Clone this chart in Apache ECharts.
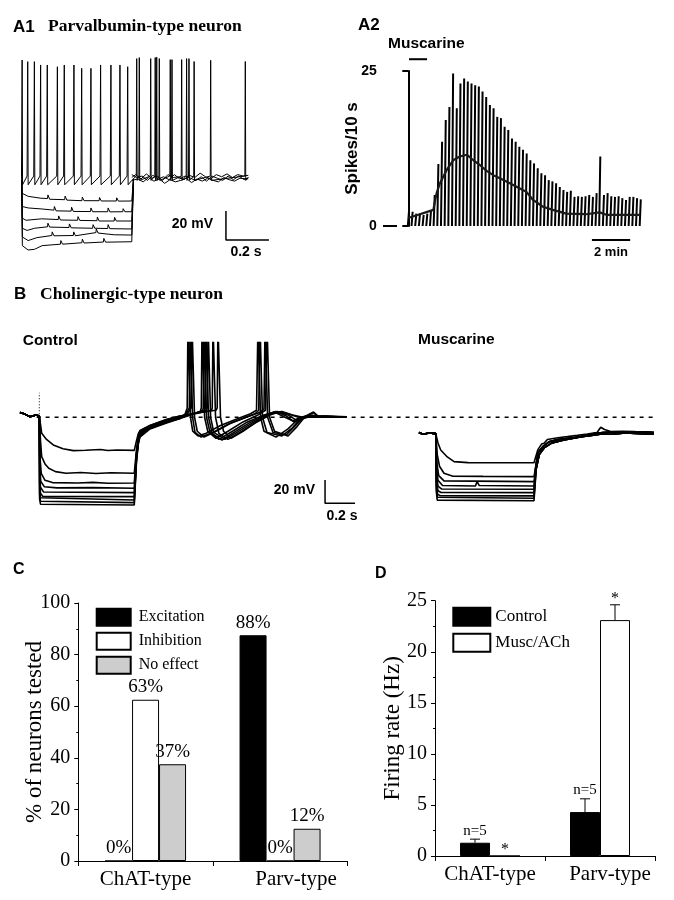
<!DOCTYPE html>
<html><head><meta charset="utf-8">
<script src="https://cdn.jsdelivr.net/npm/echarts@6/dist/echarts.min.js"></script>
<style>html,body{margin:0;padding:0;background:#fff}#c{width:674px;height:900px}</style>
</head><body><div id="c"></div>
<script>
// ================= DATA =================
// ---- A1: Parvalbumin-type neuron (time ms, membrane potential mV) ----
const a1StepSpikeTimes = [2, 28, 59, 88, 119, 166, 198, 243, 279, 322, 367, 415, 457, 493];
const a1StepSpikePeaks = [25, 23.9, 23.9, 21.6, 21.6, 20.4, 21.6, 21.6, 19.3, 19.3, 21.6, 21.6, 21.6, 20.4];
const a1PostSpikeTimes = [535, 547, 600, 621, 628, 640, 691, 699, 744, 767, 778, 802, 879, 1040];
const a1PostSpikePeaks = [26, 26.7, 26, 26.7, 27, 26, 25.3, 25.3, 25.3, 26, 26, 24, 24.8, 24];
const a1Hyper1 = [[0,-58],[3,-67],[30,-69],[90,-70.3],[120,-70.5],[122,-68],[130,-71],[200,-71.3],[202,-68.8],[210,-71.6],[280,-72],[282,-69.5],[290,-72],[360,-72],[362,-69.8],[370,-72.2],[440,-72.2],[442,-70],[450,-72.3],[512,-72.2],[520,-57]];
const a1Hyper2 = [[0,-58],[3,-76],[30,-77],[93,-77.7],[150,-78.5],[152,-76],[160,-79],[230,-79.2],[232,-76.5],[240,-79.4],[320,-79.5],[322,-77],[330,-79.6],[400,-79.6],[402,-77],[410,-79.7],[470,-79.6],[472,-77.5],[480,-79.6],[512,-79.6],[520,-57]];
const a1Hyper3 = [[0,-58],[3,-84],[20,-85.5],[93,-84.5],[170,-85],[172,-82.5],[180,-85.3],[260,-85.5],[262,-83],[270,-85.6],[350,-85.8],[352,-83.3],[360,-86],[430,-86],[432,-83.5],[440,-86],[512,-86],[520,-57]];
const a1Hyper4 = [[0,-58],[3,-91],[25,-92.5],[60,-91],[120,-90],[122,-87.5],[130,-90.2],[220,-90.5],[222,-88],[230,-90.7],[330,-91],[332,-88.5],[340,-91],[400,-91.2],[402,-88.5],[410,-91.3],[512,-91.5],[520,-57]];
const a1Hyper5 = [[0,-58],[3,-97],[30,-99.5],[70,-97.5],[140,-96],[142,-93.5],[150,-96.2],[240,-96],[242,-93.5],[250,-96.2],[345,-94],[347,-91.5],[355,-94.3],[430,-95.5],[512,-95.7],[520,-57]];
const a1Hyper6 = [[0,-58],[3,-103],[30,-106],[60,-105.5],[95,-103],[180,-102],[182,-99.5],[190,-102],[280,-101],[282,-98.5],[290,-101.2],[380,-100.5],[382,-98],[390,-100.6],[512,-100.3],[520,-57]];
const a1Noise1 = [[512,-56],[530,-54],[555,-57],[580,-53.5],[605,-56.5],[630,-55],[655,-58],[680,-54],[705,-56],[730,-55.5],[755,-57.5],[780,-54.5],[805,-56],[830,-53],[855,-55.5],[880,-57],[905,-54],[930,-55.5],[955,-53.5],[980,-56],[1005,-54],[1030,-55],[1054,-54.5]];
const a1Noise2 = [[512,-58],[540,-57],[565,-59],[590,-56],[615,-58.5],[640,-57],[665,-60],[690,-57.5],[715,-59],[740,-58],[765,-56.5],[790,-59.5],[815,-57],[840,-58.5],[865,-56.5],[890,-58],[915,-59],[940,-56],[965,-57.5],[990,-58.5],[1015,-56.5],[1054,-57]];
const a1Noise3 = [[512,-54],[535,-56],[560,-55],[585,-58],[610,-54.5],[635,-57],[660,-55.5],[685,-57.5],[710,-54],[735,-57],[760,-55],[785,-56.5],[810,-58],[835,-55.5],[860,-58.5],[885,-55],[910,-56.5],[935,-58],[960,-55],[985,-57.5],[1010,-55],[1035,-57.5],[1054,-56]];
const a1ScaleBar = [[950,-79.1],[950,-99.1],[1150,-99.1]];   // 20 mV / 200 ms

// ---- A2: spikes per 10 s bin ----
const a2Peaks = [2.3,2.3,2.0,2.0,1.8,2.0,2.5,5.0,10.0,13.6,
  17.1,19.2,24.6,19.0,23.0,23.8,23.3,23.0,22.7,22.5,
  21.7,20.8,19.5,19.0,17.6,17.4,16.0,15.5,14.1,13.6,
  12.8,12.3,11.7,10.6,10.1,9.3,8.5,8.2,7.4,7.2,
  6.9,6.3,5.8,5.5,5.7,4.7,4.8,4.7,4.8,5.0,
  4.7,5.3,11.2,5.0,5.3,4.8,4.7,4.8,4.5,4.2,
  4.7,4.7,4.5,4.3];
const a2Base = 0;
const a2Mean = [[0,1.3],[6.8,2.6],[7.7,5.3],[8.6,6.9],[10.4,9.0],[12.2,10.6],[14.0,11.2],[15.9,11.5],[17.7,10.6],[19.5,9.8],[21.3,8.9],[23.1,8.2],[24.9,7.7],[27.6,6.9],[30.2,6.1],[32.1,5.5],[33.9,4.2],[36.6,3.1],[39.3,2.6],[42.9,2.0],[48.3,1.9],[52,2.2],[53.8,1.8],[57.4,1.8],[62.8,1.8]];
const a2DrugBar = [[0.2,26.9],[5.1,26.9]];
const a2ScaleBar = [[49.9,-2.26],[60.3,-2.26]];  // 2 min

// ---- B: Cholinergic-type neuron (time ms, mV) ----
const bCtrlPre = [[13,-56],[40,-57],[80,-59.5],[120,-58],[142,-59]];
const bCtrl1 = [[150,-66],[158,-73.7],[190,-79],[235,-83.7],[300,-87],[369,-88.6],[450,-88.3],[549,-87.6],[600,-88.5],[660,-88],[775,-88.4],[790,-80],[802,-74],[813,-71.4],[880,-67],[990,-62],[1080,-59],[1200,-56],[1320,-54],[1328,-52],[1333,20],[1343,20],[1350,-60],[1370,-72],[1420,-78],[1500,-72],[1600,-63],[1700,-56],[1760,-55],[1830,-58],[1900,-60],[1969,-56],[2000,-59.5],[2193,-60]];
const bCtrl2 = [[150,-80],[158,-93.8],[180,-100],[205,-103.7],[250,-106.6],[320,-108],[420,-107.4],[520,-108.2],[620,-107.5],[775,-108],[790,-88],[802,-77],[813,-72],[880,-67],[990,-62],[1080,-59],[1200,-56.5],[1290,-54],[1295,-52],[1300,20],[1310,20],[1317,-60],[1340,-74],[1400,-79],[1480,-73],[1580,-65],[1680,-58],[1740,-55.5],[1800,-57],[1870,-60],[2193,-60]];
const bCtrl3 = [[147,-95],[155,-108],[180,-114],[230,-116],[400,-116.3],[500,-115.8],[600,-116.6],[775,-116.4],[790,-90],[802,-78],[813,-73],[880,-67.5],[990,-62.5],[1080,-59.5],[1180,-56.5],[1255,-54],[1262,-52],[1267,20],[1277,20],[1284,-60],[1305,-73],[1380,-79],[1460,-73],[1560,-65],[1660,-58],[1730,-55],[1800,-58],[1850,-62],[1900,-60],[2193,-59.8]];
const bCtrl4 = [[146,-105],[152,-115],[175,-119.5],[260,-120.5],[500,-120.3],[775,-120.8],[790,-92],[802,-79],[813,-74],[880,-68],[990,-63],[1080,-60],[1170,-57],[1245,-54],[1248,-52],[1253,20],[1263,20],[1270,-60],[1295,-74],[1360,-79.5],[1440,-73],[1540,-65],[1650,-58],[1720,-55],[1790,-59],[1840,-64],[1880,-62],[1960,-59],[2193,-59.5]];
const bCtrl5 = [[146,-112],[150,-120],[170,-124],[775,-124.6],[790,-93],[802,-80],[813,-74],[880,-68.5],[990,-63.5],[1080,-60.5],[1160,-57.5],[1230,-54.5],[1235,-52],[1240,20],[1250,20],[1257,-60],[1280,-73],[1340,-79],[1430,-72],[1530,-64],[1640,-58],[1710,-55.5],[1780,-60],[1830,-63],[1880,-61],[1950,-59],[2193,-59.7]];
const bCtrl6 = [[145,-118],[150,-125],[165,-127.8],[775,-128],[790,-94],[802,-81],[813,-75],[880,-69],[990,-64],[1080,-61],[1150,-58],[1215,-55],[1222,-52],[1227,20],[1237,20],[1244,-60],[1265,-72],[1320,-78],[1400,-72],[1500,-64],[1600,-58],[1650,-54],[1660,20],[1670,20],[1677,-60],[1710,-72],[1800,-76],[1860,-68],[1910,-60],[1970,-55.5],[2000,-59],[2193,-60]];
const bCtrl7 = [[145,-122],[150,-129],[160,-130.7],[775,-130.9],[790,-95],[802,-82],[813,-75],[880,-69],[990,-64],[1080,-60.5],[1130,-57],[1155,-52],[1160,20],[1170,20],[1177,-60],[1195,-72],[1240,-77],[1320,-72],[1420,-65],[1520,-60],[1610,-56],[1640,-53],[1647,20],[1657,20],[1664,-60],[1700,-73],[1790,-75],[1850,-67],[1900,-60],[2193,-59.5]];
const bCtrl8 = [[144,-126],[150,-132],[775,-133.2],[790,-96],[802,-82],[813,-76],[880,-69.5],[990,-64.5],[1080,-61],[1120,-57],[1142,-52],[1147,20],[1157,20],[1164,-60],[1180,-73],[1220,-77],[1300,-73],[1400,-66],[1500,-61],[1580,-57],[1605,-54],[1613,20],[1623,20],[1630,-60],[1660,-73],[1760,-76],[1830,-69],[1890,-60],[2050,-59],[2193,-60]];
const bCtrl9 = [[144,-130],[150,-134.5],[775,-135.2],[790,-98],[802,-83],[813,-77],[880,-70],[990,-65],[1080,-61],[1115,-57],[1128,-52],[1133,20],[1143,20],[1150,-60],[1165,-72],[1200,-76],[1250,-74],[1350,-67],[1450,-62],[1550,-57],[1590,-54],[1600,20],[1610,20],[1617,-60],[1640,-72],[1720,-77],[1800,-70],[1880,-60],[1960,-58],[2000,-60],[2193,-59.5]];
const bMuscPre = [[2673,-73],[2700,-74.5],[2740,-73.5],[2785,-74]];
const bMusc1 = [[2800,-82],[2818,-88],[2862,-94],[2907,-98],[3000,-98.9],[3200,-99],[3440,-99]];
const bMusc2 = [[2795,-92],[2810,-102],[2840,-108],[2900,-110.5],[3100,-110.7],[3440,-110.9]];
const bMusc3 = [[2793,-100],[2805,-110],[2840,-114.5],[3440,-115.2]];
const bMusc4 = [[2792,-105],[2800,-114],[2830,-118.5],[3050,-118.9],[3060,-115],[3075,-118.5],[3440,-118.9]];
const bMusc5 = [[2791,-110],[2800,-119],[2825,-121.5],[3440,-121.7]];
const bMusc6 = [[2790,-115],[2800,-123],[2820,-124.5],[3440,-124.6]];
const bMusc7 = [[2790,-118],[2797,-126],[2815,-127.3],[3440,-127.4]];
const bMusc8 = [[2789,-121],[2796,-128.5],[3440,-129.4]];
const bMusc9 = [[2789,-124],[2795,-131],[3440,-131.5]];
const bMuscPostA = [[3450,-100],[3465,-88],[3490,-83],[3507,-82.3],[3529,-79],[3600,-77.5],[3662,-76.6],[3730,-75.5],[3795,-74.3],[3860,-73],[3885,-68.6],[3910,-70.5],[3951,-72.3],[4030,-72],[4107,-72.3],[4180,-73],[4240,-73.7]];
const bMuscPostB = [[3452,-102],[3468,-90],[3500,-85],[3540,-81],[3600,-79],[3700,-77.5],[3800,-76],[3880,-74.5],[3960,-74.5],[4050,-73.5],[4150,-74],[4240,-74.5]];
const bMuscPostC = [[3455,-104],[3475,-92],[3510,-86],[3560,-82],[3640,-79.5],[3740,-77],[3840,-74],[3900,-73],[3990,-72.5],[4080,-73],[4170,-72.5],[4240,-73]];
const bRestLine = [[124,-60],[4240,-60]];
const bArtifact = [[142,-60],[142,-39]];
const bScaleBar = [[2047,-113.7],[2047,-133.7],[2247,-133.7]];  // 20 mV / 200 ms

// ---- C: % of neurons tested ----
const cCategories = ['ChAT-type', 'Parv-type'];
const cExcitation = [0, 87.5];
const cInhibition = [62.5, 0];
const cNoEffect = [37.5, 12.5];
const cExcitationText = ['0%', '88%'];
const cInhibitionText = ['63%', '0%'];
const cNoEffectText = ['37%', '12%'];
const cYTicks = [0, 100, 20];

// ---- D: Firing rate (Hz) ----
const dCategories = ['ChAT-type', 'Parv-type'];
const dControl = [1.3, 4.3];
const dControlErr = [1.65, 5.6];
const dMusc = [0, 23.1];
const dMuscErr = [0, 24.6];
const dControlNote = ['n=5', 'n=5'];
const dMuscNote = ['*', '*'];
const dYTicks = [0, 25, 5];

// ================= BUILD =================
const SERIF = 'Liberation Serif', SANS = 'Liberation Sans';

const a1SpikeTrace = [[0,-58]];
a1StepSpikeTimes.forEach((t,i)=>{ a1SpikeTrace.push([t-3,-55],[t,a1StepSpikePeaks[i]],[t+2,-61]); });
a1SpikeTrace.push([512,-58]);
a1PostSpikeTimes.forEach((t,i)=>{ a1SpikeTrace.push([t-2,-55],[t,a1PostSpikePeaks[i]],[t+2,-58]); });
a1SpikeTrace.push([1054,-56]);

// each 10-s bin drawn as one slanted stroke from the base to its count
const a2Strokes = [];
a2Peaks.forEach((p,i)=>{ a2Strokes.push([i-0.12,a2Base],[i+0.18,p],[i+0.5,null]); });

function line(data, g, w, extra) {
  return Object.assign({type:'line', xAxisIndex:g, yAxisIndex:g, data:data, showSymbol:false, symbol:'none',
    silent:true, animation:false, connectNulls:false, lineStyle:{color:'#000', width:w}, itemStyle:{color:'#000'}}, extra||{});
}

const series = [];
[a1Hyper1,a1Hyper2,a1Hyper3,a1Hyper4,a1Hyper5,a1Hyper6].forEach(d=>series.push(line(d,0,1)));
[a1Noise1,a1Noise2,a1Noise3].forEach(d=>series.push(line(d,0,1)));
series.push(line(a1SpikeTrace,0,1));
series.push(line(a1ScaleBar,0,1.5,{clip:false}));

series.push(line(a2Strokes,1,2,{clip:false}));
series.push(line(a2Mean,1,2.2,{clip:false, lineStyle:{color:'#1a1a1a', width:2.2}}));
series.push(line(a2DrugBar,1,2,{clip:false}));
series.push(line(a2ScaleBar,1,2,{clip:false}));

[bCtrl1,bCtrl2,bCtrl3,bCtrl4,bCtrl5,bCtrl6,bCtrl7,bCtrl8,bCtrl9].forEach(d=>series.push(line(bCtrlPre.concat(d),2,1.6)));
const muscPosts = [bMuscPostA,bMuscPostB,bMuscPostC,bMuscPostB,bMuscPostC,bMuscPostB,bMuscPostC,bMuscPostB,bMuscPostC];
[bMusc1,bMusc2,bMusc3,bMusc4,bMusc5,bMusc6,bMusc7,bMusc8,bMusc9].forEach((d,i)=>series.push(line(bMuscPre.concat(d,muscPosts[i]),2,1.6)));
series.push(line(bRestLine,2,1.6,{lineStyle:{color:'#000',width:1.6,type:[4,5]}}));
series.push(line(bArtifact,2,1,{lineStyle:{color:'#000',width:1,type:[1,2]}}));
series.push(line(bScaleBar,2,1.5,{clip:false}));

function cBar(name, data, texts, color) {
  return {type:'bar', name:name, xAxisIndex:3, yAxisIndex:3, data:data, barWidth:27, barGap:'0%', silent:true, animation:false,
    itemStyle:{color:color, borderColor:'#000', borderWidth:1},
    label:{show:true, position:'top', distance:3, formatter:p=>texts[p.dataIndex], fontFamily:SERIF, fontSize:19, color:'#000'}};
}
series.push(cBar('Excitation', cExcitation, cExcitationText, '#000'));
series.push(cBar('Inhibition', cInhibition, cInhibitionText, '#fff'));
series.push(cBar('No effect', cNoEffect, cNoEffectText, '#cdcdcd'));

function dBar(name, data, color) {
  return {type:'bar', name:name, xAxisIndex:4, yAxisIndex:4, data:data, barWidth:30, barGap:'0%', silent:true, animation:false,
    itemStyle:{color:color, borderColor:'#000', borderWidth:1}};
}
series.push(dBar('Control', dControl, '#000'));
series.push(dBar('Musc/ACh', dMusc, '#fff'));

function errSeries(vals, errs, notes, offset) {
  return {type:'custom', xAxisIndex:4, yAxisIndex:4, silent:true, animation:false, clip:false, z:5,
    data: vals.map((v,i)=>[i, v, errs[i]]),
    renderItem: function(params, api){
      const i = api.value(0), v = api.value(1), e = api.value(2);
      const base = api.coord([i, v]), top = api.coord([i, e]);
      const x = base[0] + offset;
      const ch = [];
      if (e > v) {
        ch.push({type:'line', shape:{x1:x,y1:base[1],x2:x,y2:top[1]}, style:{stroke:'#000',lineWidth:1}});
        ch.push({type:'line', shape:{x1:x-5,y1:top[1],x2:x+5,y2:top[1]}, style:{stroke:'#000',lineWidth:1}});
      }
      const note = notes[i];
      if (note === '*') {
        ch.push({type:'text', style:{text:note, x:x, y:top[1]-6, textAlign:'center', textVerticalAlign:'middle', font:'16px "Liberation Serif"', fill:'#000'}});
      } else {
        ch.push({type:'text', style:{text:note, x:x, y:top[1]-1, textAlign:'center', textVerticalAlign:'bottom', font:'15px "Liberation Serif"', fill:'#000'}});
      }
      return {type:'group', children:ch};
    }};
}
series.push(errSeries(dControl, dControlErr, dControlNote, -15));
series.push(errSeries(dMusc, dMuscErr, dMuscNote, 15));

const hiddenX = (g,min,max)=>({type:'value', gridIndex:g, min:min, max:max, show:false, splitLine:{show:false}});
const hiddenY = (g,min,max)=>({type:'value', gridIndex:g, min:min, max:max, show:false, splitLine:{show:false}});
const black = {color:'#000'};

function catX(g, cats, shift) {
  return {type:'category', gridIndex:g, data:cats, boundaryGap:true,
    axisLine:{show:true, lineStyle:{color:'#000', width:1}},
    axisTick:{show:true, length:5, alignWithLabel:false, interval:0, lineStyle:black},
    axisLabel:{interval:0, hideOverlap:false, margin:8, fontFamily:SERIF, fontSize:21, color:'#000',
      formatter:(v,i)=> i===1 ? '{p|'+v+'}' : v, rich:{p:{fontFamily:SERIF, fontSize:21, color:'#000', padding:[0,0,0,shift]}}},
    splitLine:{show:false}};
}
function numY(g, ticks, name, gap) {
  return {type:'value', gridIndex:g, min:ticks[0], max:ticks[1], interval:ticks[2],
    name:name, nameLocation:'middle', nameGap:gap, nameMoveOverlap:false, nameTextStyle:{fontFamily:SERIF, fontSize:23, color:'#000'},
    axisLine:{show:true, lineStyle:{color:'#000', width:1}},
    axisTick:{show:true, length:4, lineStyle:black},
    minorTick:{show:true, splitNumber:2, length:2, lineStyle:black},
    axisLabel:{margin:8, fontFamily:SERIF, fontSize:20, color:'#000'},
    splitLine:{show:false}};
}

const T = (text, x, y, font, align) => ({type:'text', x:x, y:y, silent:true,
  style:{text:text, font:font, fill:'#000', textAlign:align||'left', textVerticalAlign:'middle'}});
const BS = s => 'bold '+s+'px "Liberation Sans"';
const BT = s => 'bold '+s+'px "Liberation Serif"';

const option = {
  animation:false,
  backgroundColor:'#fff',
  grid:[
    {left:21.7, top:52.8, width:258, height:203},
    {left:396.7, top:71, width:247.1, height:155},
    {left:18, top:342.6, width:645, height:168},
    {left:78.3, top:603, width:269, height:258},
    {left:435, top:600.7, width:220, height:255.3}
  ],
  xAxis:[ hiddenX(0,0,1200), hiddenX(1,-3.15,64), hiddenX(2,0,4300), catX(3,cCategories,32), catX(4,dCategories,20) ],
  yAxis:[
    hiddenY(0,-110,30),
    {type:'value', gridIndex:1, min:0, max:25, interval:25, name:'Spikes/10 s', nameLocation:'middle', nameGap:36, nameMoveOverlap:false,
      nameTextStyle:{fontFamily:SANS, fontWeight:'bold', fontSize:17, color:'#000'},
      axisLine:{show:true, lineStyle:{color:'#000', width:2}}, axisTick:{show:true, length:6, lineStyle:{color:'#000', width:2}},
      axisLabel:{margin:20, fontFamily:SANS, fontWeight:'bold', fontSize:14, color:'#000'}, splitLine:{show:false}},
    hiddenY(2,-140,4),
    numY(3, cYTicks, '% of neurons tested', 32),
    numY(4, dYTicks, 'Firing rate (Hz)', 31)
  ],
  legend:[
    {data:['Excitation','Inhibition','No effect'], orient:'vertical', left:90.7, top:602.7, itemWidth:34, itemHeight:17, itemGap:5,
      icon:'rect', selectedMode:false, textStyle:{fontFamily:SERIF, fontSize:16, color:'#000', padding:[0,0,0,3]}},
    {data:['Control','Musc/ACh'], orient:'vertical', left:447.3, top:601.7, itemWidth:37, itemHeight:18, itemGap:6,
      icon:'rect', selectedMode:false, textStyle:{fontFamily:SERIF, fontSize:17, color:'#000', padding:[0,0,0,0]}}
  ],
  graphic:[
    T('A1', 13, 27, BS(17)),
    T('Parvalbumin-type neuron', 48, 26, BT(17.5)),
    T('20 mV', 213, 224, BS(14), 'right'),
    T('0.2 s', 246, 252, BS(14), 'center'),
    T('A2', 358, 25, BS(17)),
    T('Muscarine', 388, 44, BS(15.5)),
    T('2 min', 611, 252, BS(13), 'center'),
    {type:'line', silent:true, shape:{x1:383, y1:226, x2:397, y2:226}, style:{stroke:'#000', lineWidth:2}},
    T('B', 14, 294, BS(17)),
    T('Cholinergic-type neuron', 40, 294, BT(17.5)),
    T('Control', 22.7, 340.5, BS(15.5)),
    T('Muscarine', 418, 339.5, BS(15.5)),
    T('20 mV', 315, 490, BS(14), 'right'),
    T('0.2 s', 342, 516, BS(14), 'center'),
    T('C', 13, 570, BS(16)),
    T('D', 375, 574, BS(16))
  ],
  series:series
};
const chart = echarts.init(document.getElementById('c'), null, {renderer:'canvas', width:674, height:900});
chart.setOption(option);
</script></body></html>
